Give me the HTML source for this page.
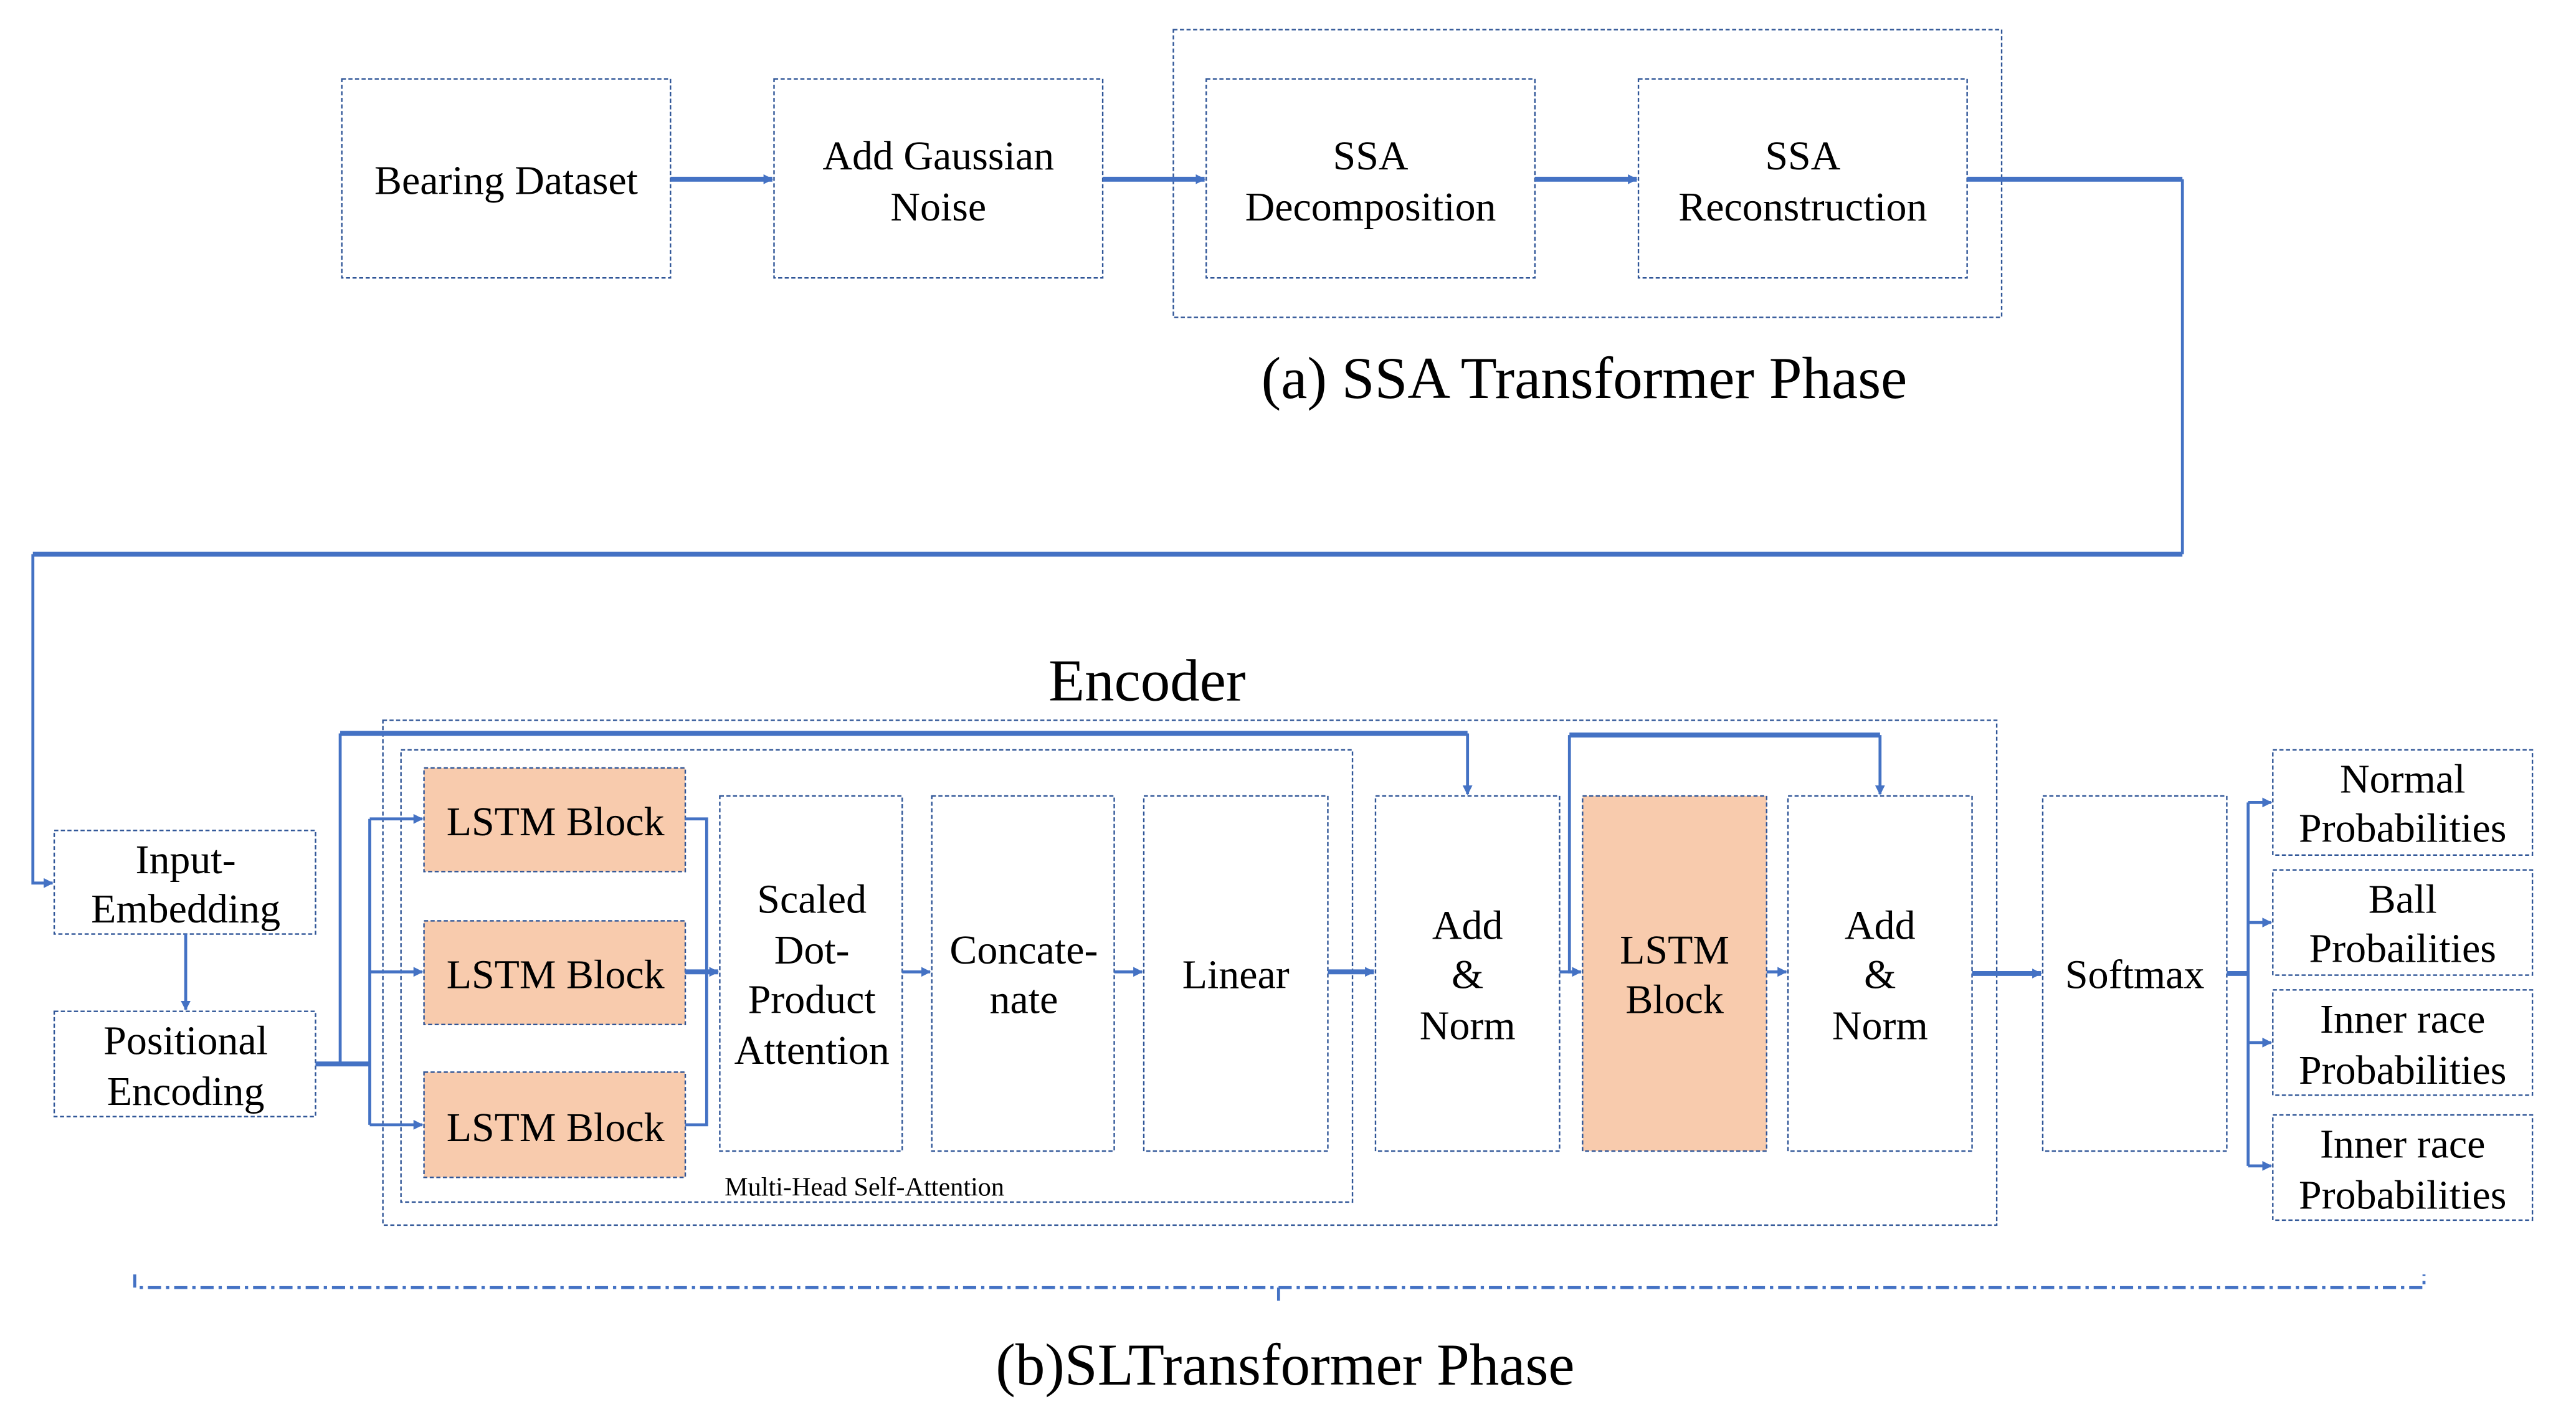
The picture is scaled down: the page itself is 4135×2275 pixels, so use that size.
<!DOCTYPE html>
<html><head><meta charset="utf-8"><style>
html,body{margin:0;padding:0;background:#fff;}
svg{display:block;}
text{font-family:"Liberation Serif","Times New Roman",serif;fill:#000;}
</style></head><body>
<svg width="4135" height="2275" viewBox="0 0 1567.5 861.7" preserveAspectRatio="none" xmlns="http://www.w3.org/2000/svg">
<defs>
<marker id="a" viewBox="0 0 10 10" refX="9" refY="5" markerWidth="6" markerHeight="7" orient="auto" markerUnits="userSpaceOnUse"><path d="M0,0L10,5L0,10z" fill="#4472C4"/></marker>
<marker id="b" viewBox="0 0 10 10" refX="9" refY="5" markerWidth="6" markerHeight="6" orient="auto" markerUnits="userSpaceOnUse"><path d="M0,0L10,5L0,10z" fill="#4472C4"/></marker>
</defs>
<g fill="none" stroke="#2F5597" stroke-width="0.9" stroke-dasharray="2.5,1.5">
<rect x="208" y="48" width="200" height="121"/>
<rect x="471" y="48" width="200" height="121"/>
<rect x="734" y="48" width="200" height="121"/>
<rect x="997" y="48" width="200" height="121"/>
<rect x="714" y="18" width="504" height="175"/>
<rect x="33" y="505" width="159" height="63"/>
<rect x="33" y="615" width="159" height="64"/>
<rect x="233" y="438" width="982" height="307"/>
<rect x="244" y="456" width="579" height="275"/>
<rect x="258" y="467" width="159" height="63" fill="#F8CBAD"/>
<rect x="258" y="560" width="159" height="63" fill="#F8CBAD"/>
<rect x="258" y="652" width="159" height="64" fill="#F8CBAD"/>
<rect x="438" y="484" width="111" height="216"/>
<rect x="567" y="484" width="111" height="216"/>
<rect x="696" y="484" width="112" height="216"/>
<rect x="837" y="484" width="112" height="216"/>
<rect x="963" y="484" width="112" height="216" fill="#F8CBAD"/>
<rect x="1088" y="484" width="112" height="216"/>
<rect x="1243" y="484" width="112" height="216"/>
<rect x="1383" y="456" width="158" height="64"/>
<rect x="1383" y="529" width="158" height="64"/>
<rect x="1383" y="602" width="158" height="64"/>
<rect x="1383" y="678" width="158" height="64"/>
</g>
<g fill="none" stroke="#4472C4">
<g stroke-width="3">
<path d="M408,109H470" marker-end="url(#a)"/>
<path d="M671,109H733" marker-end="url(#a)"/>
<path d="M934,109H996" marker-end="url(#a)"/>
<path d="M1197,109H1328"/>
<path d="M1328,337H20"/>
<path d="M192,647H225"/>
<path d="M207,446H893"/>
<path d="M955,447H1144"/>
<path d="M417,591H437" marker-end="url(#a)"/>
<path d="M808,591H836" marker-end="url(#a)"/>
<path d="M1200,592H1242" marker-end="url(#a)"/>
<path d="M1355,592H1368"/>
</g>
<g stroke-width="1.8">
<path d="M1328,109V337"/>
<path d="M20,337V537H32" marker-end="url(#b)"/>
<path d="M113,568V614" marker-end="url(#b)"/>
<path d="M207,647V446"/>
<path d="M893,446V483" marker-end="url(#b)"/>
<path d="M955,447V591H962" marker-end="url(#b)"/>
<path d="M1144,447V483" marker-end="url(#b)"/>
<path d="M225,498V684"/>
<path d="M225,498H257" marker-end="url(#b)"/>
<path d="M225,591H257" marker-end="url(#b)"/>
<path d="M225,684H257" marker-end="url(#b)"/>
<path d="M417,498H430V684H417"/>
<path d="M549,591H566" marker-end="url(#b)"/>
<path d="M678,591H695" marker-end="url(#b)"/>
<path d="M949,591H962"/>
<path d="M1075,591H1087" marker-end="url(#b)"/>
<path d="M1368,488V709"/>
<path d="M1368,488H1382" marker-end="url(#b)"/>
<path d="M1368,561H1382" marker-end="url(#b)"/>
<path d="M1368,634H1382" marker-end="url(#b)"/>
<path d="M1368,709H1382" marker-end="url(#b)"/>
<path d="M82,775V783H1475V775M778,783V791" stroke-dasharray="8,3,2,3"/>
</g>
</g>
<g font-size="25" text-anchor="middle">
<text x="308" y="118">Bearing Dataset</text>
<text x="571" y="103">Add Gaussian</text><text x="571" y="134">Noise</text>
<text x="834" y="103">SSA</text><text x="834" y="134">Decomposition</text>
<text x="1097" y="103">SSA</text><text x="1097" y="134">Reconstruction</text>
<text x="113" y="531">Input-</text><text x="113" y="561">Embedding</text>
<text x="113" y="641">Positional</text><text x="113" y="672">Encoding</text>
<text x="338" y="508">LSTM Block</text>
<text x="338" y="601">LSTM Block</text>
<text x="338" y="694">LSTM Block</text>
<text x="494" y="555">Scaled</text><text x="494" y="586">Dot-</text><text x="494" y="616">Product</text><text x="494" y="647">Attention</text>
<text x="623" y="586">Concate-</text><text x="623" y="616">nate</text>
<text x="752" y="601">Linear</text>
<text x="893" y="571">Add</text><text x="893" y="601">&amp;</text><text x="893" y="632">Norm</text>
<text x="1019" y="586">LSTM</text><text x="1019" y="616">Block</text>
<text x="1144" y="571">Add</text><text x="1144" y="601">&amp;</text><text x="1144" y="632">Norm</text>
<text x="1299" y="601">Softmax</text>
<text x="1462" y="482">Normal</text><text x="1462" y="512">Probabilities</text>
<text x="1462" y="555">Ball</text><text x="1462" y="585">Probailities</text>
<text x="1462" y="628">Inner race</text><text x="1462" y="659">Probabilities</text>
<text x="1462" y="704">Inner race</text><text x="1462" y="735">Probabilities</text>
</g>
<text x="526" y="727" font-size="16" text-anchor="middle">Multi-Head Self-Attention</text>
<text x="964" y="242" font-size="36" text-anchor="middle">(a) SSA Transformer Phase</text>
<text x="698" y="426" font-size="36" text-anchor="middle">Encoder</text>
<text x="782" y="842" font-size="36" text-anchor="middle">(b)SLTransformer Phase</text>
</svg>
</body></html>
